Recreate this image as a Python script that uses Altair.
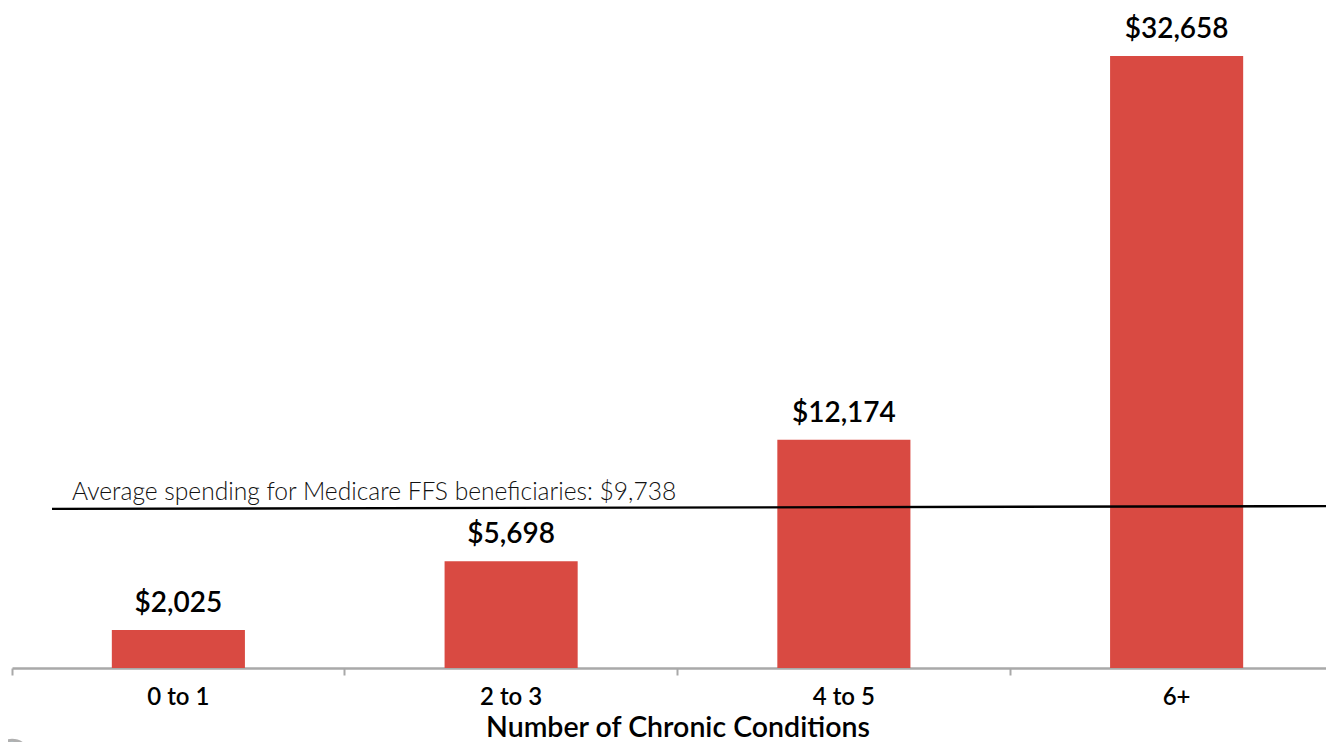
import altair as alt
import pandas as pd

categories = ["0 to 1", "2 to 3", "4 to 5", "6+"]
spending = [2025, 5698, 12174, 32658]
value_labels = ["$2,025", "$5,698", "$12,174", "$32,658"]
avg_label = "Average spending for Medicare FFS beneficiaries: $9,738"
avg_line_start = 8490
avg_line_end = 8640
x_title = "Number of Chronic Conditions"
FONT = "Lato"

df = pd.DataFrame({"cat": categories, "spend": spending, "label": value_labels})

x_scale = alt.Scale(domain=categories, range=[0, 1331], paddingInner=0, paddingOuter=0)
y_scale = alt.Scale(domain=[0, 35218], nice=False)

x_enc = alt.X(
    "cat:N", scale=x_scale, sort=categories, title=x_title,
    axis=alt.Axis(
        bandPosition=0, labelAngle=0, grid=False, domainColor="#a9a9a9", domainWidth=2.5,
        tickColor="#a9a9a9", tickWidth=2, tickSize=7, labelColor="#000000", labelFont=FONT,
        labelFontSize=24, labelFontWeight=600, labelPadding=10, titleFont=FONT,
        titleFontSize=28.5, titleFontWeight=600, titleColor="#000000", titlePadding=4,
    ),
)
y_enc = alt.Y("spend:Q", scale=y_scale, axis=None)

bars = alt.Chart(df).mark_bar(color="#d94a42", width=alt.RelativeBandSize(band=0.4)).encode(x=x_enc, y=y_enc)
labels = alt.Chart(df).mark_text(
    font=FONT, fontSize=28, fontWeight=600, color="#000000", baseline="alphabetic", dy=-18
).encode(
    x=alt.X("cat:N", scale=x_scale, sort=categories, bandPosition=0.5, title=x_title),
    y=y_enc, text="label:N",
)
line = alt.Chart(pd.DataFrame({"a": [avg_line_start], "b": [avg_line_end]})).mark_rule(
    color="#000000", strokeWidth=2.4
).encode(
    x=alt.value(40), x2=alt.value(1322),
    y=alt.Y("a:Q", scale=y_scale, axis=None), y2="b:Q",
)
line_text = alt.Chart(pd.DataFrame({"t": [avg_label]})).mark_text(
    font=FONT, fontSize=24.6, fontWeight=300, color="#111111", align="left", baseline="alphabetic"
).encode(x=alt.value(60), y=alt.value(492), text="t:N")
badge = alt.Chart(pd.DataFrame({"t": ["badge"]})).mark_point(
    filled=True, fill="#a8d8e8", stroke="#b0b0b0", strokeWidth=3, size=1256, opacity=1, shape="circle"
).encode(x=alt.value(0), y=alt.value(750))

chart = alt.layer(bars, labels, line, line_text, badge).properties(
    width=1314, height=660, background="#ffffff",
    padding={"left": 4, "top": 0, "right": 0, "bottom": 74},
    autosize=alt.AutoSizeParams(type="none"),
).configure_view(stroke=None)

chart.save("out.html", embed_options={"renderer": "svg", "actions": False})
